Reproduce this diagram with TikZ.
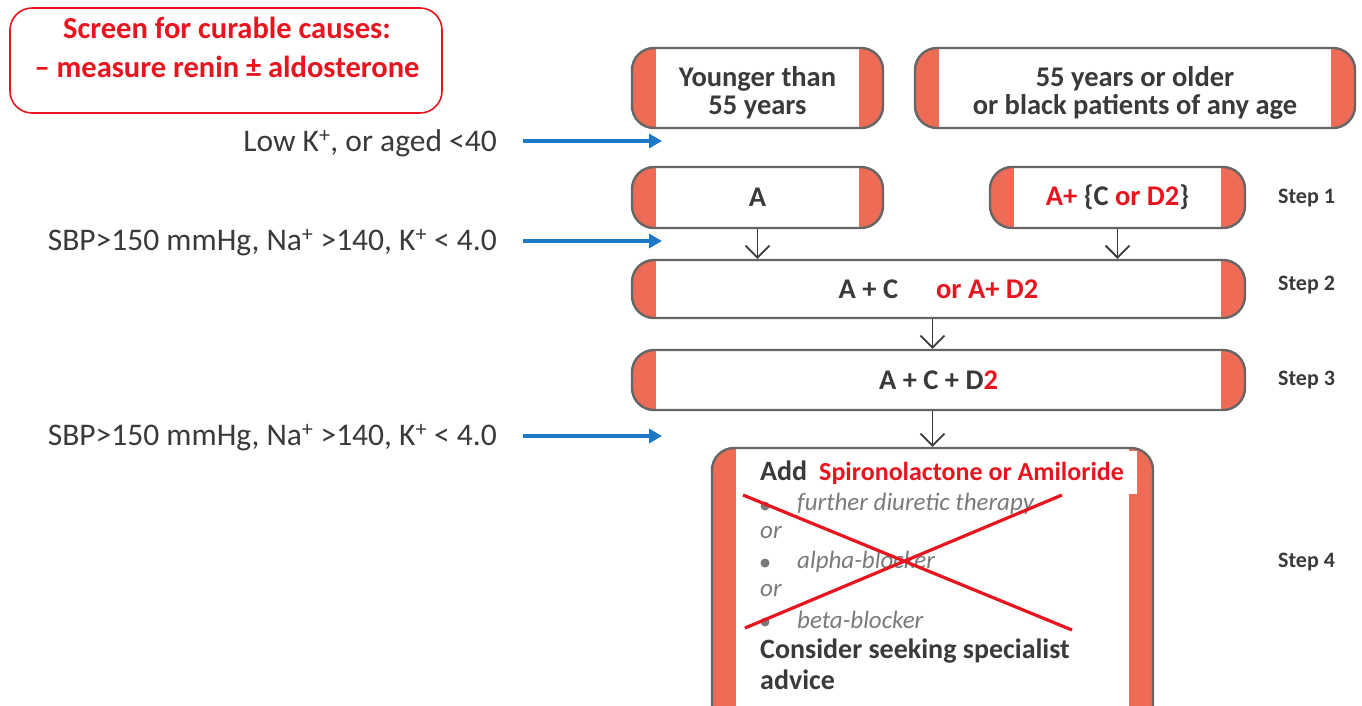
\documentclass[tikz,border=0pt]{standalone}
\usepackage{fontspec}
\setmainfont{Carlito}
\usetikzlibrary{arrows.meta}
\definecolor{salmon}{HTML}{EE6C55}
\definecolor{bordergray}{HTML}{666666}
\definecolor{redtxt}{HTML}{E8141E}
\definecolor{bluearr}{HTML}{1E78C8}
\definecolor{darktxt}{HTML}{3A3A3A}
\definecolor{itgray}{HTML}{7A7A7A}
\def\pillend{24pt}
\tikzset{
  pill/.style={rectangle, draw=bordergray, line width=2.4pt, fill=salmon,
    rounded corners=22pt, inner sep=0pt, text=darktxt, align=center,
    font=\fontsize{28.5}{28}\selectfont\bfseries,
    path picture={\fill[white, sharp corners] ([xshift=\pillend]path picture bounding box.south west)
      rectangle ([xshift=-\pillend]path picture bounding box.north east);}},
  pilltext/.style={align=center, inner sep=0pt, text=darktxt, font=\fontsize{28.5}{28}\selectfont\bfseries},
  steplbl/.style={anchor=west, inner sep=0pt, text=darktxt, font=\fontsize{22}{26}\selectfont\bfseries},
  sidelbl/.style={anchor=east, inner sep=0pt, text=darktxt, font=\fontsize{31.5}{36}\selectfont},
  bluearrow/.style={draw=bluearr, line width=4pt, -{Triangle[length=13pt,width=14pt]}},
  grayarrow/.style={draw=darktxt, line width=1.8pt, -{Straight Barb[length=12pt,width=24pt]}},
  s4txt/.style={anchor=west, inner sep=0pt, text=darktxt, font=\fontsize{28}{30}\selectfont\bfseries},
  s4it/.style={anchor=west, inner sep=0pt, text=itgray, font=\fontsize{25}{28}\selectfont\itshape},
  bullet/.style={circle, fill=itgray, inner sep=0pt, minimum size=9pt},
}
\begin{document}
\begin{tikzpicture}[x=1pt,y=-1pt]
\useasboundingbox (0,0) rectangle (1362,705);
\clip (0,0) rectangle (1362,705);
\fill[white] (0,0) rectangle (1362,705);

% screening box
\node[draw=redtxt, line width=1.6pt, rounded corners=22pt, minimum width=432pt, minimum height=105pt,
  inner sep=0pt] (screen) at (226,60.5) {};
\node[text=redtxt, font=\fontsize{30.5}{39}\selectfont\bfseries, align=center, anchor=north, inner sep=0pt] (screentxt)
  at (227,17) {Screen for curable causes:\\ -- measure renin ± aldosterone};

% top boxes
\node[pill, minimum width=251pt, minimum height=80pt,
  label={[pilltext, yshift=-5pt]center:Younger than\\55 years}] (young) at (757.5,88) {};
\node[pill, minimum width=440pt, minimum height=80pt,
  label={[pilltext, yshift=-5pt]center:55 years or older\\or black patients of any age}] (old) at (1135,88) {};

% step 1
\node[pill, minimum width=251pt, minimum height=61pt] (A) at (757.5,197.5) {A};
\node[pill, minimum width=255pt, minimum height=61pt] (Aplus) at (1117.5,197.5)
  {\textcolor{redtxt}{A+} \{C \textcolor{redtxt}{or D2}\}};

% step 2
\node[pill, minimum width=613pt, minimum height=58pt] (AC) at (938.5,289)
  {A + C\hspace{38pt}\textcolor{redtxt}{or A+ D2}};

% step 3
\node[pill, minimum width=613pt, minimum height=60pt] (ACD) at (938.5,380)
  {A + C + D\textcolor{redtxt}{2}};

% step 4
\node[pill, minimum width=441pt, minimum height=290pt] (S4) at (932.5,593) {};
\fill[white] (738,451) rectangle (1137,494);

\node[s4txt] (add) at (760,473) {Add\hspace{12pt}\textcolor{redtxt}{\fontsize{26}{28}\selectfont Spironolactone or Amiloride}};
\node[bullet] (b1) at (765,506) {};
\node[s4it] (t1) at (797,504) {further diuretic therapy};
\node[s4it] (or1) at (760,533) {or};
\node[bullet] (b2) at (765,563) {};
\node[s4it] (t2) at (797,562) {alpha-blocker};
\node[s4it] (or2) at (760,591) {or};
\node[bullet] (b3) at (765,622) {};
\node[s4it] (t3) at (797,620) {beta-blocker};
\node[s4txt] (cons) at (760,651) {Consider seeking specialist};
\node[s4txt] (adv) at (760,680) {advice};

% red cross
\coordinate (c1) at (743,495);
\coordinate (c2) at (1072,630);
\coordinate (c3) at (745,628);
\coordinate (c4) at (1062,495);
\draw[redtxt, line width=3.2pt] (c1) -- (c2);
\draw[redtxt, line width=3.2pt] (c3) -- (c4);

% step labels
\node[steplbl] (st1) at (1278,198) {Step 1};
\node[steplbl] (st2) at (1278,285) {Step 2};
\node[steplbl] (st3) at (1278,380) {Step 3};
\node[steplbl] (st4) at (1278,562) {Step 4};

% gray arrows
\draw[grayarrow] (A.south) -- (A.south |- AC.north);
\draw[grayarrow] (Aplus.south) -- (Aplus.south |- AC.north);
\draw[grayarrow] ([xshift=-6pt]AC.south) -- ([xshift=-6pt]AC.south |- ACD.north);
\draw[grayarrow] (S4.north |- ACD.south) -- (S4.north);

% side labels and blue arrows
\node[sidelbl] (l1) at (497,143) {Low K\textsuperscript{+}, or aged <40};
\node[sidelbl] (l2) at (497,243) {SBP>150 mmHg, Na\textsuperscript{+} >140, K\textsuperscript{+} < 4.0};
\node[sidelbl] (l3) at (497,438) {SBP>150 mmHg, Na\textsuperscript{+} >140, K\textsuperscript{+} < 4.0};
\coordinate (e1) at (662,141);
\coordinate (e2) at (662,241);
\coordinate (e3) at (662,436);
\draw[bluearrow] ([xshift=26pt,yshift=2pt]l1.east) -- (e1);
\draw[bluearrow] ([xshift=26pt,yshift=2pt]l2.east) -- (e2);
\draw[bluearrow] ([xshift=26pt,yshift=2pt]l3.east) -- (e3);
\end{tikzpicture}
\end{document}
